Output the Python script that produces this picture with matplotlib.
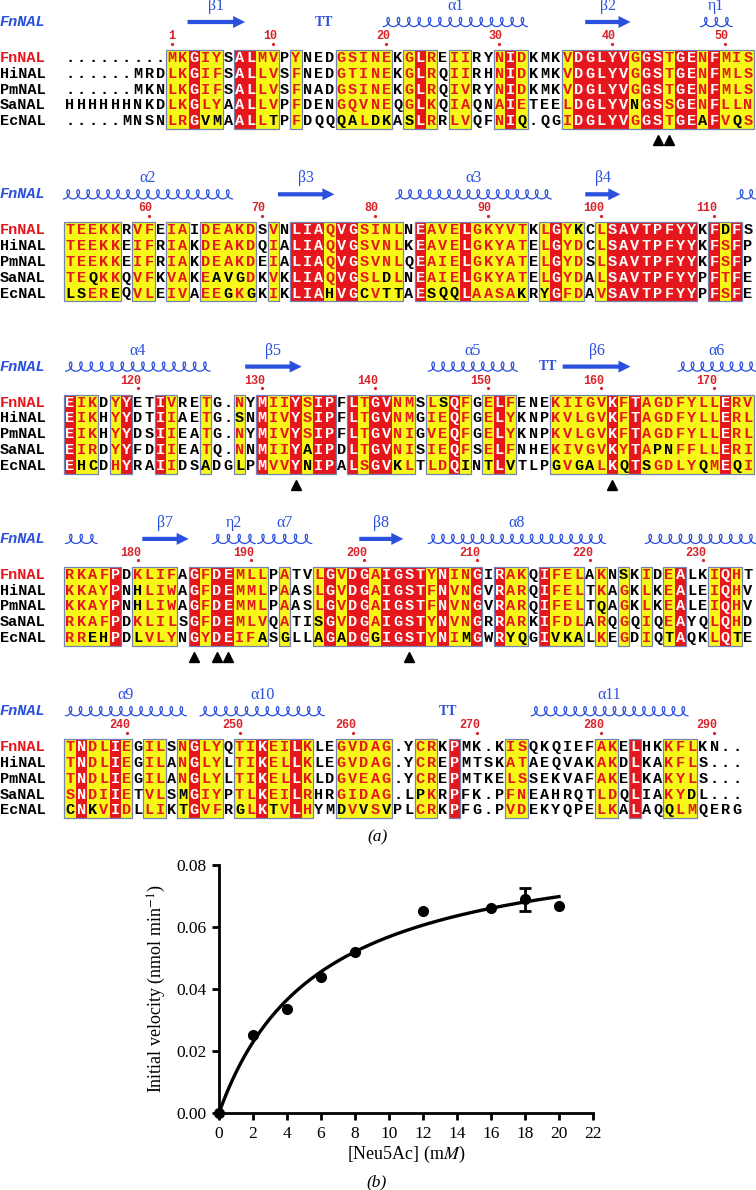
"""
plot.py
=======
Sequence alignment of bacterial NALs (ESPript style) and the Neu5Ac
kinetics curve of FnNAL, drawn into one 756 x 1190 px figure.
"""

import matplotlib
matplotlib.use("Agg")
import matplotlib.pyplot as plt
import numpy as np
from matplotlib.patches import Rectangle, FancyArrow

plt.rcParams["mathtext.fontset"] = "stix"

# ---------------------------------------------------------------------------
# Alignment data.  Column class: R = strictly conserved, Y = similar, - = none.
# Lower-case residues sit in a similar column but are not part of the group.
# ---------------------------------------------------------------------------
names = ["FnNAL", "HiNAL", "PmNAL", "SaNAL", "EcNAL"]

block1_seqs = [
    ".........MKGIYSALMVPYNEDGSINEKGLREIIRYNIDKMKVDGLYVGGSTGENFMIS",
    "......MRDLKGIFSALLVSFNEDGTINEKGLRQIIRHNIDKMKVDGLYVGGSTGENFMLS",
    "......MKNLKGIFSALLVSFNADGSINEKGLRQIVRYNIDKMKVDGLYVGGSTGENFMLS",
    "HHHHHHNKDLKGLYAALLVPFDENGQVNEQGLKQIAQNAIETEELDGLYVnGSSGENFLLN",
    ".....MNSNLRGvmAALLtPFDQQqaLdkAsLRRLVQFNIq.QGIDGLYVGGSTGEaFVqS",
]
block1_cols = "---------YYRYY-RRYY-Y---YYYYY-YRY-YY--YRY---YRRRRRYRRYRRYRYYY"
block1_ss = [("beta", 10.4, 15.5, "β1"), ("turn", 22.5, 22.5, ""),
             ("helix", 27.7, 40.5, "α1"), ("beta", 45.6, 49.6, "β2"),
             ("helix", 55.8, 58.6, "η1")]
block1_marks = [52, 53]

block2_seqs = [
    "TEEKKRVFEIAIDEAKDSVNLIAQVGSINLNEAVELGKYVTKLGYkCLSAVTPFYYKFdFS",
    "TEEKKEIFRIAKDEAKDQIALIAQVGSVNLKEAVELGKYATELGYDCLSAVTPFYYKFSFP",
    "TEEKKEIFRIAKDEAKDEIALIAQVGSVNLQEAIELGKYATELGYDSLSAVTPFYYKFSFP",
    "TEqKKQVFKVAKEavgDKVKLIAQVGSLdLNEAIELGKYATELGYDALSAVTPFYYPFTFE",
    "lsEReQVLEIVAEEgKgKIKLIAhVGcVttAEsqqLAASAkRyGFDAVSAVTPFYYPFSFE",
]
block2_cols = "YYYYY-YY-YY-YYYYY-Y-RRRYRRYYYY-RYYYRYYYYY-YRYY-YRRRRRRRR-RYR-"
block2_ss = [("helix", -0.6, 14.4, "α2"), ("beta", 18.4, 23.4, "β3"),
             ("helix", 28.8, 42.6, "α3"), ("beta", 45.6, 48.7, "β4"),
             ("helix", 59.0, 60.7, "")]
block2_marks = []

block3_seqs = [
    "EIKDYYETIVRETG.NYMIIYSIPFLTGVNMSLsQFGELFENEKIIGVKFTAGDFYLLERV",
    "EIKHYYDTIIAETG.sNMIVYSIPFLTGVNMGIEQFGELYKNPKVLGVKFTAGDFYLLERL",
    "EIKHYYDSIIEATG.NYMIVYSIPFLTGVNIGVEQFGELYKNPKVLGVKFTAGDFYLLERL",
    "EIRDYYFDIIEATQ.NNMIIYaIPDLTGVNISIEQFSELFNHEKIVGVKYTApnFFLLERI",
    "EhcDHYRAIIDSaDGlPMVVYnIPALSGVkLTLDQiNtLvTLPgVgaLKqTsGDLYqMEqI",
]
block3_cols = "RYY-YR--RY--Y--Y-RYYRYRR-RYRRYY-YYRY-YRY---YYYYYRYRYYYYYYYRYY"
block3_ss = [("helix", -0.4, 12.4, "α4"), ("beta", 15.5, 20.5, "β5"),
             ("helix", 31.7, 39.6, "α5"), ("turn", 42.3, 42.3, ""),
             ("beta", 43.6, 49.6, "β6"), ("helix", 53.8, 60.7, "α6")]
block3_marks = [20, 48]

block4_seqs = [
    "RKAFPDKLIFAGFDEMLLPATVLGVDGAIGSTYNINGIRAKQIFELAKNsKIDEALKIQHT",
    "KKAYPNhLIWAGFDEMMLPAASLGVDGAIGSTFNVNGVRARQIFELTKAGKLKEALEIQHV",
    "KKAYPNhLIWAGFDEMMLPAASLGVDGAIGSTFNVNGVRARQIFELTqAGKLKEALEIQHV",
    "RKAFPDKLILSGFDEMLVQATIsGVDGAIGSTYNVNGRRARKIFDLARQGQIQEAYQLQHD",
    "RRehPDlVLYNGYDEIFaSgLLaGaDGgIGSTYNImGWRyqGIvkaLKEGDIQtAQKLQtE",
]
block4_cols = "YYYYR-YYYY-RYRRYYY-Y--YRYRRYRRRRYRYYR-RYY-RYYY-Y-Y-Y-YR--YRY-"
block4_ss = [("helix", -0.4, 2.4, ""), ("beta", 6.4, 10.5, "β7"),
             ("helix", 12.6, 16.4, "η2"), ("helix", 16.6, 21.4, "α7"),
             ("beta", 25.6, 29.5, "β8"), ("helix", 31.7, 47.4, "α8"),
             ("helix", 50.9, 60.7, "")]
block4_marks = [11, 13, 14, 30]

block5_seqs = [
    "TNDLIEGILSNGLYQTIKEILKLEGVDAG.YCRKPMK.KISQKQIEFAKELHKKFLKN..",
    "TNDLIEGILANGLYLTIKELLKLEGVDAG.YCREPMTSKATAEQVAKAKDLKAKFLS...",
    "TNDLIEGILANGLYLTIKELLKLDGVEAG.YCREPMTKELSSEKVAFAKELKAKYLS...",
    "SNDIIETVLSmGIYPTLKEILRHRGIDAG.LpKRPFK.PFNEAHRQTLDQLIAKYdL...",
    "cNkVIDLLIKtGVFRgLKtVLHYMdVvSvPLCRKPFG.PVDEKYQPELKALAQqLMQERG",
]
block5_cols = "YRYYRY-YY-YRYY-YYRYYRY--YYYYY--YY-R----YY------YY-R--YYY----"
block5_ss = [("helix", -0.4, 10.3, "α9"), ("helix", 11.5, 22.5, "α10"),
             ("turn", 33.5, 33.5, ""), ("helix", 40.8, 54.7, "α11")]
block5_marks = []

# ---------------------------------------------------------------------------
# Kinetics data (panel b)
# ---------------------------------------------------------------------------
conc_mM = [0, 2, 4, 6, 8, 12, 16, 18, 20]
velocity = [0.0, 0.0253, 0.0334, 0.0440, 0.0520, 0.0651, 0.0660, 0.0689, 0.0669]
velocity_err = [0, 0, 0, 0, 0, 0, 0, 0.0037, 0]
vmax_fit = 0.0904      # nmol min-1, Michaelis-Menten fit
km_fit = 5.9           # mM

# ---------------------------------------------------------------------------
# Layout / style
# ---------------------------------------------------------------------------
X0, PITCH, ROW_H = 70.0, 11.3, 15.8
BLOCK_TOPS = [58.0, 230.3, 402.6, 574.9, 747.2]
RED, YELLOW, FRAME = "#e5171d", "#f8f818", "#7282b2"
BLUE, NUM_RED = "#2a50dd", "#d8232a"
MONO = "Liberation Mono"
SERIF = "Liberation Serif"


def col_x(c):
    return X0 + c * PITCH


def draw_coil(ax, c0, c1, y):
    x0, x1 = col_x(c0), col_x(c1)
    n = max(1, int(round((x1 - x0) / 10.0)))
    a = (x1 - x0) / (2 * np.pi * n)
    t = np.linspace(-np.pi, 2 * np.pi * n - np.pi, 50 * n)
    xs = x0 + a * (t + np.pi) - 3.4 * np.sin(t)
    ys = y - 4.6 * np.cos(t)
    ax.plot(xs, ys, color=BLUE, lw=0.9, solid_capstyle="round")


def draw_block(ax, top, seqs, cols, ss, marks, res):
    """Draw one alignment block; return the FnNAL residue count so far."""
    ys = [top + i * ROW_H for i in range(len(seqs))]
    y_lo, y_hi = ys[0] - ROW_H / 2, ys[-1] + ROW_H / 2

    # header: protein name + secondary structure
    ax.text(0, top - 36, "FnNAL", color=BLUE, fontsize=11, family=MONO,
            weight="bold", style="italic", va="center", ha="left")
    for kind, c0, c1, label in ss:
        if kind == "helix":
            draw_coil(ax, c0, c1, top - 36)
        elif kind == "beta":
            ax.add_patch(FancyArrow(col_x(c0), top - 36, col_x(c1) - col_x(c0), 0,
                                    width=4.2, head_width=12, head_length=12,
                                    length_includes_head=True, color=BLUE, lw=0))
        else:
            ax.text(col_x(c0), top - 36, "TT", color=BLUE, fontsize=10,
                    family=SERIF, weight="bold", ha="center", va="center")
        if label:
            ax.text((col_x(c0) + col_x(c1)) / 2, top - 52, label, color=BLUE,
                    fontsize=11.5, family=SERIF, ha="center", va="center")

    # cell backgrounds
    for c, kind in enumerate(cols):
        if kind in "RY":
            ax.add_patch(Rectangle((col_x(c) - PITCH / 2, y_lo), PITCH, y_hi - y_lo,
                                   facecolor=RED if kind == "R" else YELLOW,
                                   edgecolor="none", zorder=1))
    # frames around runs of boxed columns
    c = 0
    while c < len(cols):
        if cols[c] == "-":
            c += 1
            continue
        start = c
        while c < len(cols) and cols[c] != "-":
            c += 1
        ax.add_patch(Rectangle((col_x(start) - PITCH / 2, y_lo),
                               (c - start) * PITCH, y_hi - y_lo, fill=False,
                               edgecolor=FRAME, lw=0.9, zorder=2))

    # residue numbering of FnNAL
    for c, ch in enumerate(seqs[0]):
        if ch == ".":
            continue
        res += 1
        if res == 1 or res % 10 == 0:
            ax.text(col_x(c) + 3.4, top - 22, str(res), color=NUM_RED,
                    fontsize=8.5, family=MONO, weight="bold",
                    ha="right", va="center")
            ax.plot(col_x(c), top - 14.5, marker="o", ms=1.3, color=NUM_RED)

    # sequences
    for i, (name, seq) in enumerate(zip(names, seqs)):
        ax.text(0, ys[i], name, color=RED if i == 0 else "black",
                fontsize=11, family=MONO, weight="bold", va="center", ha="left")
        for c, ch in enumerate(seq):
            kind = cols[c]
            if kind == "R":
                color = "white"
            elif kind == "Y":
                color = RED if ch.isupper() else "black"
            else:
                color = "black"
            ax.text(col_x(c), ys[i], ch.upper(), color=color, fontsize=11,
                    family=MONO, weight="bold", ha="center", va="center",
                    zorder=3)

    # catalytic residue markers
    if marks:
        ax.plot([col_x(m) for m in marks], [ys[-1] + 19] * len(marks),
                linestyle="none", marker="^", ms=6.5, color="black")
    return res


def main():
    fig = plt.figure(figsize=(7.56, 11.90), dpi=100)

    ax_al = fig.add_axes([0, 0, 1, 1])
    ax_al.set_xlim(0, 756)
    ax_al.set_ylim(1190, 0)
    ax_al.axis("off")

    blocks = [
        (block1_seqs, block1_cols, block1_ss, block1_marks),
        (block2_seqs, block2_cols, block2_ss, block2_marks),
        (block3_seqs, block3_cols, block3_ss, block3_marks),
        (block4_seqs, block4_cols, block4_ss, block4_marks),
        (block5_seqs, block5_cols, block5_ss, block5_marks),
    ]
    res = 0
    for top, (seqs, cols, ss, marks) in zip(BLOCK_TOPS, blocks):
        res = draw_block(ax_al, top, seqs, cols, ss, marks, res)

    ax_al.text(378, 837, "(a)", fontsize=12.5, family=SERIF, style="italic",
               ha="center", va="center")
    ax_al.text(377, 1182, "(b)", fontsize=12.5, family=SERIF, style="italic",
               ha="center", va="center")

    # --- panel b: kinetics ---
    ax = fig.add_axes([219 / 756, 77 / 1190, 374 / 756, 248 / 1190])
    s = np.linspace(0, max(conc_mM), 200)
    ax.plot(s, vmax_fit * s / (km_fit + s), color="black", lw=2.4)

    x = np.array(conc_mM, dtype=float)
    y = np.array(velocity)
    e = np.array(velocity_err)
    ax.plot(x, y, "o", color="black", ms=7, clip_on=False, zorder=4)
    has_err = e > 0
    ax.errorbar(x[has_err], y[has_err], yerr=e[has_err], fmt="none",
                ecolor="black", elinewidth=2, capsize=4.5, capthick=2)

    ax.set_xlim(0, 22)
    ax.set_ylim(0, 0.08)
    ax.set_xticks(np.arange(0, 23, 2))
    ax.set_yticks([0, 0.02, 0.04, 0.06, 0.08])
    ax.set_yticklabels([f"{v:.2f}" for v in ax.get_yticks()])
    for side in ("top", "right"):
        ax.spines[side].set_visible(False)
    for side in ("left", "bottom"):
        ax.spines[side].set_linewidth(2)
    ax.tick_params(direction="out", length=5, width=2, labelsize=12.5, pad=4)
    for lab in ax.get_xticklabels() + ax.get_yticklabels():
        lab.set_family(SERIF)
    ax.set_xlabel("[Neu5Ac] (m$M$)", fontsize=13, family=SERIF, labelpad=2)
    ax.set_ylabel("Initial velocity (nmol min$^{-1}$)", fontsize=13,
                  family=SERIF, labelpad=6)

    fig.savefig("out.png", dpi=100)
    plt.close(fig)


if __name__ == "__main__":
    main()
